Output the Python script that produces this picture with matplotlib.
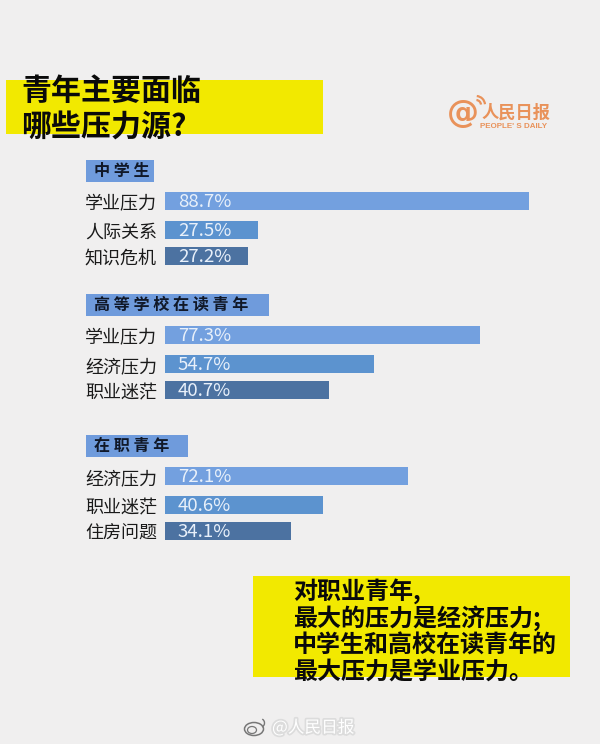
import matplotlib
matplotlib.use('Agg')
import matplotlib.pyplot as plt
import matplotlib.patheffects as pe
from matplotlib.patches import Rectangle, Arc, Ellipse
from matplotlib.transforms import ScaledTranslation

plt.rcParams['font.family'] = ['Noto Sans CJK SC', 'DejaVu Sans']

title_lines = ['青年主要面临', '哪些压力源?']
groups = ['中学生', '高等学校在读青年', '在职青年']
categories = ['学业压力', '人际关系', '知识危机',
              '学业压力', '经济压力', '职业迷茫',
              '经济压力', '职业迷茫', '住房问题']
# percentages printed on the bars
values = [88.7, 27.5, 27.2, 77.3, 54.7, 40.7, 72.1, 40.6, 34.1]
# the bars in the picture are not to scale, this is the length they are drawn at
drawn_lengths = [88.7, 22.7, 20.2, 76.8, 51.0, 40.0, 59.3, 38.5, 30.7]
note_lines = ['对职业青年,', '最大的压力是经济压力;', '中学生和高校在读青年的', '最大压力是学业压力。']

BG = '#f0efef'
YELLOW = '#f2e900'
CHIP = '#6f9bdc'
BAR_COLORS = ['#73a0df', '#5c93cf', '#4c72a1']
ORANGE = '#e9925a'

W, H = 600, 744
PX_PER_UNIT = 4.1
BAR_LEFT = 165
bar_y = [201, 230, 256, 335, 364, 390, 476, 505, 531]
chips = [(86, 160, 68), (86, 294, 183), (86, 435, 102)]

fig = plt.figure(figsize=(W / 100, H / 100), dpi=100, facecolor=BG)

# page layer in pixel coordinates
bg = fig.add_axes([0, 0, 1, 1])
bg.set_xlim(0, W)
bg.set_ylim(H, 0)
bg.axis('off')

bg.add_patch(Rectangle((6, 80), 317, 54, color=YELLOW, lw=0))
for text, y in zip(title_lines, [91, 127]):
    bg.text(21, y, text, fontsize=21.6, fontweight='bold', color='#0a0a0a', va='center', ha='left')

for name, (x, y, w) in zip(groups, chips):
    bg.add_patch(Rectangle((x, y), w, 22, color=CHIP, lw=0))
    bg.text(x + 8, y + 11, ' '.join(name), fontsize=11.6, fontweight='bold', color='#101828', va='center', ha='left')

bg.add_patch(Rectangle((253, 576), 317, 101, color=YELLOW, lw=0))
for text, y in zip(note_lines, [591, 618, 646, 672]):
    bg.text(293, y, text, fontsize=17.3, fontweight='bold', color='#0a0a0a', va='center', ha='left')

# logo
bg.text(463, 114, '@', fontsize=23, color=ORANGE, fontweight='bold', ha='center', va='center', family='DejaVu Sans')
for d in (10, 18):
    bg.add_patch(Arc((476, 105), d, d, theta1=-85, theta2=-5, color=ORANGE, lw=1.6))
bg.text(481, 113, '人民日报', fontsize=12.4, color=ORANGE, fontweight='bold', ha='left', va='center')
bg.text(480, 127, "PEOPLE' S DAILY", fontsize=5.8, color=ORANGE, fontweight='bold', ha='left', va='center', family='Liberation Sans')

# watermark
halo = [pe.withStroke(linewidth=2.5, foreground='#dcdcdc')]
bg.add_patch(Ellipse((254, 729), 19, 13, fill=False, ec='#777777', lw=1.1))
bg.add_patch(Ellipse((252, 730), 9, 7, fill=False, ec='#777777', lw=0.9))
bg.add_patch(Arc((260, 723), 9, 9, theta1=-60, theta2=60, color='#777777', lw=1))
bg.text(272, 728, '@人民日报', fontsize=12, color='#ffffff', ha='left', va='center', path_effects=halo)

# bar layer, x is in percent and y stays in page pixels
ax = fig.add_axes([BAR_LEFT / W, 0, (W - BAR_LEFT) / W, 1])
ax.patch.set_alpha(0)
ax.set_xlim(0, (W - BAR_LEFT) / PX_PER_UNIT)
ax.set_ylim(H, 0)
ax.barh(bar_y, drawn_lengths, height=18, color=BAR_COLORS * 3)
ax.set_yticks(bar_y, categories, fontsize=13, color='#1a1a1a')
ax.tick_params(axis='y', length=0, pad=5.8)
ax.xaxis.set_visible(False)
for spine in ax.spines.values():
    spine.set_visible(False)
# labels sit a little under the bar centre in the picture
label_shift = ScaledTranslation(0, -0.8 / 72, fig.dpi_scale_trans)
for label in ax.get_yticklabels():
    label.set_transform(label.get_transform() + label_shift)
for y, v in zip(bar_y, values):
    ax.annotate(f'{v}%', (0, y), xytext=(9.2, -0.8), textcoords='offset points',
                color='#e8f0fa', fontsize=13.4, va='center', ha='left')

fig.savefig('out.png', dpi=100, facecolor=BG)
